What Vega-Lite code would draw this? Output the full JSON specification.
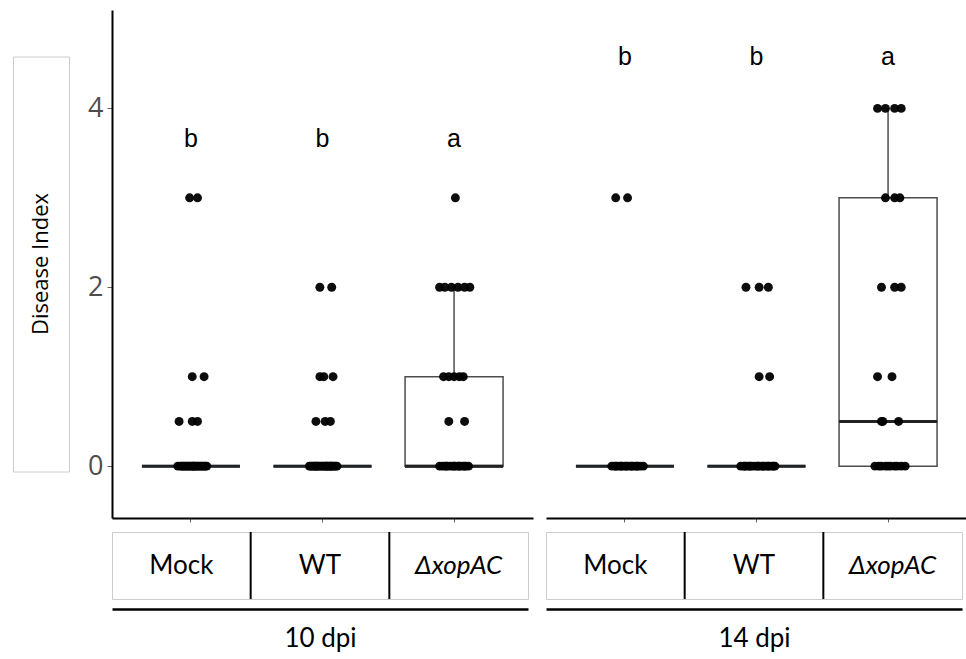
{
  "$schema": "https://vega.github.io/schema/vega-lite/v6.json",
  "background": "white",
  "padding": {"left": 12, "top": 10, "right": 0, "bottom": 0},
  "config": {"view": {"stroke": null}},
  "datasets": {
    "pts": [
      {"d":"10","g":"Mock","v":3,"j":-0.01},{"d":"10","g":"Mock","v":3,"j":0.05},
      {"d":"10","g":"Mock","v":1,"j":0.01},{"d":"10","g":"Mock","v":1,"j":0.10},
      {"d":"10","g":"Mock","v":0.5,"j":-0.09},{"d":"10","g":"Mock","v":0.5,"j":0.01},{"d":"10","g":"Mock","v":0.5,"j":0.05},
      {"d":"10","g":"Mock","v":0,"j":-0.10},{"d":"10","g":"Mock","v":0,"j":-0.08},{"d":"10","g":"Mock","v":0,"j":-0.07},{"d":"10","g":"Mock","v":0,"j":-0.05},
      {"d":"10","g":"Mock","v":0,"j":-0.04},{"d":"10","g":"Mock","v":0,"j":-0.03},{"d":"10","g":"Mock","v":0,"j":-0.02},{"d":"10","g":"Mock","v":0,"j":-0.01},
      {"d":"10","g":"Mock","v":0,"j":0.0},{"d":"10","g":"Mock","v":0,"j":0.01},{"d":"10","g":"Mock","v":0,"j":0.02},{"d":"10","g":"Mock","v":0,"j":0.03},
      {"d":"10","g":"Mock","v":0,"j":0.04},{"d":"10","g":"Mock","v":0,"j":0.05},{"d":"10","g":"Mock","v":0,"j":0.06},{"d":"10","g":"Mock","v":0,"j":0.07},
      {"d":"10","g":"Mock","v":0,"j":0.08},{"d":"10","g":"Mock","v":0,"j":0.09},{"d":"10","g":"Mock","v":0,"j":0.10},{"d":"10","g":"Mock","v":0,"j":0.11},
      {"d":"10","g":"Mock","v":0,"j":0.12},{"d":"10","g":"Mock","v":0,"j":-0.06},{"d":"10","g":"Mock","v":0,"j":0.02},

      {"d":"10","g":"WT","v":2,"j":-0.02},{"d":"10","g":"WT","v":2,"j":0.07},
      {"d":"10","g":"WT","v":1,"j":-0.02},{"d":"10","g":"WT","v":1,"j":0.01},{"d":"10","g":"WT","v":1,"j":0.08},
      {"d":"10","g":"WT","v":0.5,"j":-0.05},{"d":"10","g":"WT","v":0.5,"j":0.02},{"d":"10","g":"WT","v":0.5,"j":0.06},
      {"d":"10","g":"WT","v":0,"j":-0.10},{"d":"10","g":"WT","v":0,"j":-0.09},{"d":"10","g":"WT","v":0,"j":-0.08},{"d":"10","g":"WT","v":0,"j":-0.07},
      {"d":"10","g":"WT","v":0,"j":-0.06},{"d":"10","g":"WT","v":0,"j":-0.05},{"d":"10","g":"WT","v":0,"j":-0.04},{"d":"10","g":"WT","v":0,"j":-0.03},
      {"d":"10","g":"WT","v":0,"j":-0.02},{"d":"10","g":"WT","v":0,"j":-0.01},{"d":"10","g":"WT","v":0,"j":0.0},{"d":"10","g":"WT","v":0,"j":0.01},
      {"d":"10","g":"WT","v":0,"j":0.02},{"d":"10","g":"WT","v":0,"j":0.03},{"d":"10","g":"WT","v":0,"j":0.04},{"d":"10","g":"WT","v":0,"j":0.05},
      {"d":"10","g":"WT","v":0,"j":0.06},{"d":"10","g":"WT","v":0,"j":0.07},{"d":"10","g":"WT","v":0,"j":0.08},{"d":"10","g":"WT","v":0,"j":0.09},
      {"d":"10","g":"WT","v":0,"j":0.10},{"d":"10","g":"WT","v":0,"j":0.11},{"d":"10","g":"WT","v":0,"j":-0.05},{"d":"10","g":"WT","v":0,"j":0.03},
      {"d":"10","g":"WT","v":0,"j":0.06},

      {"d":"10","g":"ΔxopAC","v":3,"j":0.01},
      {"d":"10","g":"ΔxopAC","v":2,"j":-0.11},{"d":"10","g":"ΔxopAC","v":2,"j":-0.07},{"d":"10","g":"ΔxopAC","v":2,"j":-0.02},
      {"d":"10","g":"ΔxopAC","v":2,"j":0.03},{"d":"10","g":"ΔxopAC","v":2,"j":0.08},{"d":"10","g":"ΔxopAC","v":2,"j":0.12},
      {"d":"10","g":"ΔxopAC","v":1,"j":-0.08},{"d":"10","g":"ΔxopAC","v":1,"j":-0.04},{"d":"10","g":"ΔxopAC","v":1,"j":0.0},
      {"d":"10","g":"ΔxopAC","v":1,"j":0.04},{"d":"10","g":"ΔxopAC","v":1,"j":0.07},
      {"d":"10","g":"ΔxopAC","v":0.5,"j":-0.04},{"d":"10","g":"ΔxopAC","v":0.5,"j":0.08},
      {"d":"10","g":"ΔxopAC","v":0,"j":-0.11},{"d":"10","g":"ΔxopAC","v":0,"j":-0.09},{"d":"10","g":"ΔxopAC","v":0,"j":-0.07},{"d":"10","g":"ΔxopAC","v":0,"j":-0.05},
      {"d":"10","g":"ΔxopAC","v":0,"j":-0.03},{"d":"10","g":"ΔxopAC","v":0,"j":-0.01},{"d":"10","g":"ΔxopAC","v":0,"j":0.01},{"d":"10","g":"ΔxopAC","v":0,"j":0.03},
      {"d":"10","g":"ΔxopAC","v":0,"j":0.05},{"d":"10","g":"ΔxopAC","v":0,"j":0.07},{"d":"10","g":"ΔxopAC","v":0,"j":0.09},{"d":"10","g":"ΔxopAC","v":0,"j":0.11},
      {"d":"10","g":"ΔxopAC","v":0,"j":-0.06},{"d":"10","g":"ΔxopAC","v":0,"j":0.0},{"d":"10","g":"ΔxopAC","v":0,"j":0.04},{"d":"10","g":"ΔxopAC","v":0,"j":0.08},

      {"d":"14","g":"Mock","v":3,"j":-0.07},{"d":"14","g":"Mock","v":3,"j":0.02},
      {"d":"14","g":"Mock","v":0,"j":-0.10},{"d":"14","g":"Mock","v":0,"j":-0.08},{"d":"14","g":"Mock","v":0,"j":-0.06},{"d":"14","g":"Mock","v":0,"j":-0.04},
      {"d":"14","g":"Mock","v":0,"j":-0.02},{"d":"14","g":"Mock","v":0,"j":0.0},{"d":"14","g":"Mock","v":0,"j":0.02},{"d":"14","g":"Mock","v":0,"j":0.04},
      {"d":"14","g":"Mock","v":0,"j":0.06},{"d":"14","g":"Mock","v":0,"j":0.08},{"d":"14","g":"Mock","v":0,"j":0.10},{"d":"14","g":"Mock","v":0,"j":0.12},
      {"d":"14","g":"Mock","v":0,"j":0.14},{"d":"14","g":"Mock","v":0,"j":-0.07},{"d":"14","g":"Mock","v":0,"j":-0.03},{"d":"14","g":"Mock","v":0,"j":0.01},
      {"d":"14","g":"Mock","v":0,"j":0.05},{"d":"14","g":"Mock","v":0,"j":0.09},

      {"d":"14","g":"WT","v":2,"j":-0.08},{"d":"14","g":"WT","v":2,"j":0.02},{"d":"14","g":"WT","v":2,"j":0.09},
      {"d":"14","g":"WT","v":1,"j":0.02},{"d":"14","g":"WT","v":1,"j":0.10},
      {"d":"14","g":"WT","v":0,"j":-0.12},{"d":"14","g":"WT","v":0,"j":-0.10},{"d":"14","g":"WT","v":0,"j":-0.08},{"d":"14","g":"WT","v":0,"j":-0.06},
      {"d":"14","g":"WT","v":0,"j":-0.04},{"d":"14","g":"WT","v":0,"j":-0.02},{"d":"14","g":"WT","v":0,"j":0.0},{"d":"14","g":"WT","v":0,"j":0.02},
      {"d":"14","g":"WT","v":0,"j":0.04},{"d":"14","g":"WT","v":0,"j":0.06},{"d":"14","g":"WT","v":0,"j":0.08},{"d":"14","g":"WT","v":0,"j":0.10},
      {"d":"14","g":"WT","v":0,"j":0.12},{"d":"14","g":"WT","v":0,"j":0.14},{"d":"14","g":"WT","v":0,"j":-0.09},{"d":"14","g":"WT","v":0,"j":-0.05},
      {"d":"14","g":"WT","v":0,"j":0.01},{"d":"14","g":"WT","v":0,"j":0.05},{"d":"14","g":"WT","v":0,"j":0.09},{"d":"14","g":"WT","v":0,"j":0.13},

      {"d":"14","g":"ΔxopAC","v":4,"j":-0.08},{"d":"14","g":"ΔxopAC","v":4,"j":-0.02},{"d":"14","g":"ΔxopAC","v":4,"j":0.05},{"d":"14","g":"ΔxopAC","v":4,"j":0.10},
      {"d":"14","g":"ΔxopAC","v":3,"j":-0.02},{"d":"14","g":"ΔxopAC","v":3,"j":0.05},{"d":"14","g":"ΔxopAC","v":3,"j":0.09},
      {"d":"14","g":"ΔxopAC","v":2,"j":-0.05},{"d":"14","g":"ΔxopAC","v":2,"j":0.05},{"d":"14","g":"ΔxopAC","v":2,"j":0.10},
      {"d":"14","g":"ΔxopAC","v":1,"j":-0.08},{"d":"14","g":"ΔxopAC","v":1,"j":0.03},
      {"d":"14","g":"ΔxopAC","v":0.5,"j":-0.05},{"d":"14","g":"ΔxopAC","v":0.5,"j":-0.04},{"d":"14","g":"ΔxopAC","v":0.5,"j":0.08},
      {"d":"14","g":"ΔxopAC","v":0,"j":-0.10},{"d":"14","g":"ΔxopAC","v":0,"j":-0.07},{"d":"14","g":"ΔxopAC","v":0,"j":-0.05},{"d":"14","g":"ΔxopAC","v":0,"j":-0.02},
      {"d":"14","g":"ΔxopAC","v":0,"j":0.0},{"d":"14","g":"ΔxopAC","v":0,"j":0.02},{"d":"14","g":"ΔxopAC","v":0,"j":0.05},{"d":"14","g":"ΔxopAC","v":0,"j":0.07},
      {"d":"14","g":"ΔxopAC","v":0,"j":0.10},{"d":"14","g":"ΔxopAC","v":0,"j":0.13}
    ],
    "letters": [
      {"d":"10","g":"Mock","lab":"b","pos":3.66},{"d":"10","g":"WT","lab":"b","pos":3.66},{"d":"10","g":"ΔxopAC","lab":"a","pos":3.66},
      {"d":"14","g":"Mock","lab":"b","pos":4.58},{"d":"14","g":"WT","lab":"b","pos":4.58},{"d":"14","g":"ΔxopAC","lab":"a","pos":4.58}
    ],
    "strip": [
      {"d":"10","g":"Mock","lab":"Mock","it":0},{"d":"10","g":"WT","lab":"WT","it":0},{"d":"10","g":"ΔxopAC","lab":"ΔxopAC","it":1},
      {"d":"14","g":"Mock","lab":"Mock","it":0},{"d":"14","g":"WT","lab":"WT","it":0},{"d":"14","g":"ΔxopAC","lab":"ΔxopAC","it":1}
    ]
  },
  "bounds": "flush",
  "columns": 3,
  "spacing": {"row": 14, "column": 13},
  "center": {"row": true, "column": false},
  "concat": [
    {"width": 56, "height": 415, "view": {"stroke": "#cccccc", "strokeWidth": 1},
     "data": {"values": [{"t": "Disease Index"}]},
     "mark": {"type": "text", "angle": 270, "font": "Open Sans", "fontSize": 22, "color": "black"},
     "encoding": {"text": {"field": "t"}}},
    {
      "width": 421, "height": 508,
      "layer": [
        {
          "data": {"name": "pts"},
          "transform": [{"filter": "datum.d == '10'"}],
          "mark": {"type": "boxplot", "extent": 1.5, "size": 98, "outliers": false, "color": "#222222",
                   "box": {"fill": "white", "stroke": "#4d4d4d", "strokeWidth": 1.5},
                   "rule": {"color": "#4d4d4d", "strokeWidth": 1.5},
                   "median": {"color": "#222222", "thickness": 3}},
          "encoding": {
            "x": {"field": "g", "type": "nominal", "sort": ["Mock","WT","ΔxopAC"], "scale": {"domain": ["Mock","WT","ΔxopAC"], "paddingInner": 0, "paddingOuter": 0.1},
                  "axis": {"title": null, "labels": false, "domainColor": "black", "domainWidth": 2, "tickColor": "#666666", "tickSize": 4, "grid": false}},
            "y": {"field": "v", "type": "quantitative", "title": null, "scale": {"domain": [-0.58, 5.1], "nice": false, "zero": false},
                  "axis": {"values": [0, 2, 4], "format": "d", "title": null, "grid": false, "domainColor": "black", "domainWidth": 2, "tickColor": "#666666", "tickSize": 5, "labelFont": "Open Sans", "labelFontSize": 27, "labelColor": "#4d4d4d", "labelPadding": 4}}
          }
        },
        {
          "data": {"name": "pts"},
          "transform": [{"filter": "datum.d == '10'"}],
          "mark": {"type": "tick", "size": 98, "thickness": 3, "color": "#222222", "orient": "horizontal"},
          "encoding": {
            "x": {"field": "g", "type": "nominal", "sort": ["Mock","WT","ΔxopAC"]},
            "y": {"aggregate": "median", "field": "v", "type": "quantitative", "title": null}
          }
        },
        {
          "data": {"name": "pts"},
          "transform": [{"filter": "datum.d == '10'"}],
          "mark": {"type": "circle", "size": 80, "color": "black", "opacity": 0.95},
          "encoding": {
            "x": {"field": "g", "type": "nominal", "sort": ["Mock","WT","ΔxopAC"]},
            "xOffset": {"field": "j", "type": "quantitative", "scale": {"domain": [-0.5, 0.5]}},
            "y": {"field": "v", "type": "quantitative", "title": null}
          }
        },
        {
          "data": {"name": "letters"},
          "transform": [{"filter": "datum.d == '10'"}],
          "mark": {"type": "text", "font": "Liberation Sans", "fontSize": 25, "color": "black", "baseline": "middle"},
          "encoding": {
            "x": {"field": "g", "type": "nominal", "sort": ["Mock","WT","ΔxopAC"]},
            "y": {"field": "pos", "type": "quantitative", "title": null},
            "text": {"field": "lab"}
          }
        }
      ]
    },
    {
      "width": 421, "height": 508,
      "layer": [
        {
          "data": {"name": "pts"},
          "transform": [{"filter": "datum.d == '14'"}],
          "mark": {"type": "boxplot", "extent": 1.5, "size": 98, "outliers": false, "color": "#222222",
                   "box": {"fill": "white", "stroke": "#4d4d4d", "strokeWidth": 1.5},
                   "rule": {"color": "#4d4d4d", "strokeWidth": 1.5},
                   "median": {"color": "#222222", "thickness": 3}},
          "encoding": {
            "x": {"field": "g", "type": "nominal", "sort": ["Mock","WT","ΔxopAC"], "scale": {"domain": ["Mock","WT","ΔxopAC"], "paddingInner": 0, "paddingOuter": 0.1},
                  "axis": {"title": null, "labels": false, "domainColor": "black", "domainWidth": 2, "tickColor": "#666666", "tickSize": 4, "grid": false}},
            "y": {"field": "v", "type": "quantitative", "title": null, "scale": {"domain": [-0.58, 5.1], "nice": false, "zero": false}, "axis": null}
          }
        },
        {
          "data": {"name": "pts"},
          "transform": [{"filter": "datum.d == '14'"}],
          "mark": {"type": "tick", "size": 98, "thickness": 3, "color": "#222222", "orient": "horizontal"},
          "encoding": {
            "x": {"field": "g", "type": "nominal", "sort": ["Mock","WT","ΔxopAC"]},
            "y": {"aggregate": "median", "field": "v", "type": "quantitative", "title": null}
          }
        },
        {
          "data": {"name": "pts"},
          "transform": [{"filter": "datum.d == '14'"}],
          "mark": {"type": "circle", "size": 80, "color": "black", "opacity": 0.95},
          "encoding": {
            "x": {"field": "g", "type": "nominal", "sort": ["Mock","WT","ΔxopAC"]},
            "xOffset": {"field": "j", "type": "quantitative", "scale": {"domain": [-0.5, 0.5]}},
            "y": {"field": "v", "type": "quantitative", "title": null}
          }
        },
        {
          "data": {"name": "letters"},
          "transform": [{"filter": "datum.d == '14'"}],
          "mark": {"type": "text", "font": "Liberation Sans", "fontSize": 25, "color": "black", "baseline": "middle"},
          "encoding": {
            "x": {"field": "g", "type": "nominal", "sort": ["Mock","WT","ΔxopAC"]},
            "y": {"field": "pos", "type": "quantitative", "title": null},
            "text": {"field": "lab"}
          }
        }
      ]
    },
    {"width": 86, "height": 67, "data": {"values": [{"t": ""}]}, "mark": {"type": "text"}, "encoding": {"text": {"field": "t"}}},
    {
      "width": 416, "height": 67,
      "view": {"stroke": "#cccccc", "strokeWidth": 1},
      "data": {"name": "strip"},
      "transform": [{"filter": "datum.d == '10'"}],
      "layer": [
        {
          "transform": [{"filter": "datum.it == 0"}],
          "mark": {"type": "text", "font": "Lato", "fontSize": 26, "color": "black"},
          "encoding": {
            "x": {"field": "g", "type": "nominal", "sort": ["Mock","WT","ΔxopAC"], "scale": {"domain": ["Mock","WT","ΔxopAC"], "paddingInner": 0, "paddingOuter": 0},
                  "axis": {"orient": "bottom", "title": "10 dpi", "labels": false, "ticks": false, "domainColor": "black", "domainWidth": 2.5, "offset": 10, "titleFont": "Lato", "titleFontSize": 26, "titleFontWeight": "normal", "titleColor": "black", "titlePadding": 16}},
            "text": {"field": "lab"}
          }
        },
        {
          "transform": [{"filter": "datum.it == 1"}],
          "mark": {"type": "text", "font": "Lato", "fontSize": 26, "fontStyle": "italic", "color": "black"},
          "encoding": {
            "x": {"field": "g", "type": "nominal", "sort": ["Mock","WT","ΔxopAC"]},
            "text": {"field": "lab"}
          }
        },
        {
          "transform": [{"filter": "datum.g != 'Mock'"}],
          "mark": {"type": "rule", "color": "black", "strokeWidth": 2},
          "encoding": {
            "x": {"field": "g", "type": "nominal", "sort": ["Mock","WT","ΔxopAC"], "bandPosition": 0}
          }
        }
      ]
    },
    {
      "width": 416, "height": 67,
      "view": {"stroke": "#cccccc", "strokeWidth": 1},
      "data": {"name": "strip"},
      "transform": [{"filter": "datum.d == '14'"}],
      "layer": [
        {
          "transform": [{"filter": "datum.it == 0"}],
          "mark": {"type": "text", "font": "Lato", "fontSize": 26, "color": "black"},
          "encoding": {
            "x": {"field": "g", "type": "nominal", "sort": ["Mock","WT","ΔxopAC"], "scale": {"domain": ["Mock","WT","ΔxopAC"], "paddingInner": 0, "paddingOuter": 0},
                  "axis": {"orient": "bottom", "title": "14 dpi", "labels": false, "ticks": false, "domainColor": "black", "domainWidth": 2.5, "offset": 10, "titleFont": "Lato", "titleFontSize": 26, "titleFontWeight": "normal", "titleColor": "black", "titlePadding": 16}},
            "text": {"field": "lab"}
          }
        },
        {
          "transform": [{"filter": "datum.it == 1"}],
          "mark": {"type": "text", "font": "Lato", "fontSize": 26, "fontStyle": "italic", "color": "black"},
          "encoding": {
            "x": {"field": "g", "type": "nominal", "sort": ["Mock","WT","ΔxopAC"]},
            "text": {"field": "lab"}
          }
        },
        {
          "transform": [{"filter": "datum.g != 'Mock'"}],
          "mark": {"type": "rule", "color": "black", "strokeWidth": 2},
          "encoding": {
            "x": {"field": "g", "type": "nominal", "sort": ["Mock","WT","ΔxopAC"], "bandPosition": 0}
          }
        }
      ]
    }
  ]
}
